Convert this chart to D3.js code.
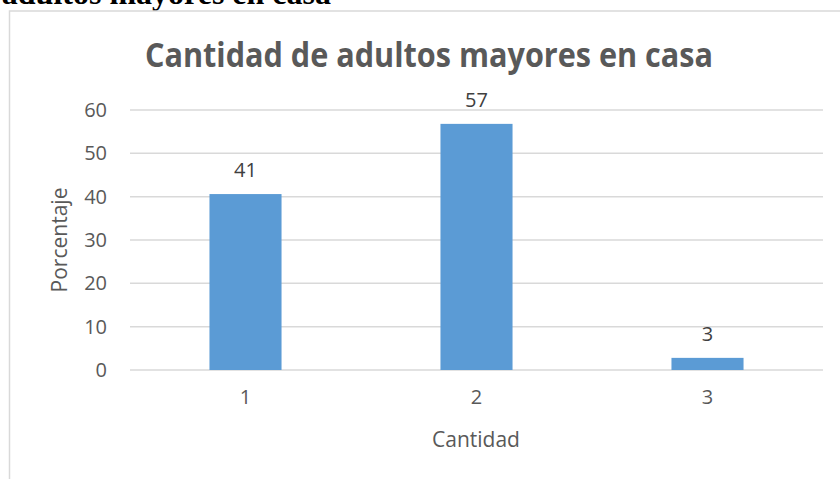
<!DOCTYPE html>
<html><head><meta charset="utf-8">
<script src="https://cdn.jsdelivr.net/npm/d3@7"></script>
<style>body{margin:0;background:#fff}svg{display:block}</style>
</head><body>
<script>
const categories = ["1", "2", "3"];
const values = [40.6, 56.8, 2.8];
const labels = ["41", "57", "3"];
const yTicks = [0, 10, 20, 30, 40, 50, 60];

const W = 840, H = 479;
const svg = d3.select("body").append("svg").attr("width", W).attr("height", H);
const font = "'Open Sans', sans-serif";

// header text above the frame (clipped, as in the reference)
svg.append("text").attr("x", 331).attr("y", 4).attr("text-anchor", "end")
  .attr("font-family", "'Liberation Serif', 'Times New Roman', serif").attr("font-weight", "bold")
  .attr("font-size", 32).attr("fill", "#000").text("adultos mayores en casa");

// chart frame
svg.append("rect").attr("x", 9.5).attr("y", 11).attr("width", 845).attr("height", 500)
  .attr("fill", "#fff").attr("stroke", "#d9d9d9").attr("stroke-width", 1.5);

const x = d3.scaleBand().domain(categories).range([130, 823]).paddingInner(0.688).paddingOuter(0.344);
const y = d3.scaleLinear().domain([0, 60]).range([370, 110]);

// gridlines
svg.append("g").selectAll("line").data(yTicks).join("line")
  .attr("x1", 130).attr("x2", 823).attr("y1", d => y(d)).attr("y2", d => y(d))
  .attr("stroke", "#d9d9d9").attr("stroke-width", 1.5);

// bars
svg.append("g").selectAll("rect").data(values).join("rect")
  .attr("x", (d, i) => x(categories[i])).attr("width", x.bandwidth())
  .attr("y", d => y(d)).attr("height", d => y(0) - y(d)).attr("fill", "#5b9bd5");

// data labels
svg.append("g").selectAll("text").data(values).join("text")
  .attr("x", (d, i) => x(categories[i]) + x.bandwidth() / 2).attr("y", d => y(d) - 17)
  .attr("text-anchor", "middle").attr("font-family", font).attr("font-size", 20)
  .attr("fill", "#404040").text((d, i) => labels[i]);

// y axis
const yAxis = svg.append("g").attr("transform", "translate(130,0)")
  .call(d3.axisLeft(y).tickValues(yTicks).tickSize(0).tickPadding(23));
yAxis.select(".domain").remove();
yAxis.selectAll("text").attr("font-family", font).attr("font-size", 20).attr("fill", "#595959");

// x axis
const xAxis = svg.append("g").attr("transform", "translate(0,370)")
  .call(d3.axisBottom(x).tickSize(0).tickPadding(20));
xAxis.select(".domain").remove();
xAxis.selectAll("text").attr("font-family", font).attr("font-size", 20).attr("fill", "#595959");

// title
svg.append("text").attr("x", 429).attr("y", 67).attr("text-anchor", "middle")
  .attr("font-family", font).attr("font-weight", "bold").attr("font-size", 34)
  .attr("fill", "#595959").attr("textLength", 568).attr("lengthAdjust", "spacingAndGlyphs")
  .text("Cantidad de adultos mayores en casa");

// axis titles
svg.append("text").attr("x", 476).attr("y", 447).attr("text-anchor", "middle")
  .attr("font-family", font).attr("font-size", 21).attr("fill", "#595959").text("Cantidad");
svg.append("text").attr("transform", "translate(67,240) rotate(-90)").attr("text-anchor", "middle")
  .attr("font-family", font).attr("font-size", 21).attr("fill", "#595959").text("Porcentaje");
</script>
</body></html>
